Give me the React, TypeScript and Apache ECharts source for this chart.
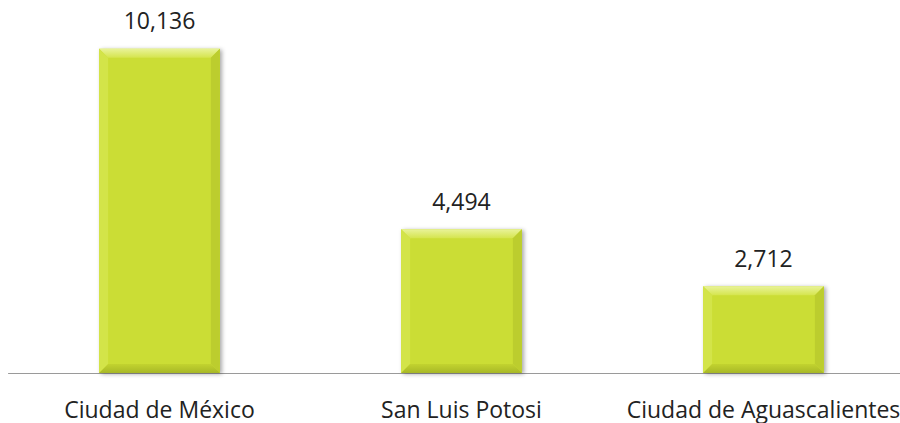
import React, { useEffect, useRef } from "react";
import * as echarts from "echarts";

const categories = ["Ciudad de México", "San Luis Potosi", "Ciudad de Aguascalientes"];
const values = [10136, 4494, 2712];

export default function App() {
  const ref = useRef<HTMLDivElement>(null);
  useEffect(() => {
    const chart = echarts.init(ref.current!, null, { renderer: "svg" });
    const font = "'Open Sans', sans-serif";
    const bev = 9;
    chart.setOption({
      animation: false,
      backgroundColor: "#ffffff",
      grid: { left: 8.5, width: 906, top: 21, bottom: 50 },
      xAxis: {
        type: "category",
        data: categories,
        axisLine: { lineStyle: { color: "#9a9a9a", width: 1 } },
        axisTick: { show: false },
        axisLabel: {
          color: "#222",
          fontSize: 23,
          fontFamily: font,
          margin: 24,
          interval: 0,
          hideOverlap: false,
        },
      },
      yAxis: {
        type: "value",
        min: 0,
        max: 11000,
        show: false,
        splitLine: { show: false },
      },
      series: [
        {
          type: "bar",
          data: values,
          barWidth: "40%",
          itemStyle: {
            color: "#cbdd36",
            shadowColor: "rgba(0,0,0,0.35)",
            shadowBlur: 4,
            shadowOffsetX: 2,
            shadowOffsetY: 1,
          },
          label: {
            show: true,
            position: "top",
            distance: 17,
            color: "#222",
            fontSize: 23,
            fontFamily: font,
            formatter: (p: any) => p.value.toLocaleString("en-US"),
          },
          z: 2,
        },
        {
          type: "custom",
          data: values.map((v, i) => [i, v]),
          z: 3,
          silent: true,
          renderItem: (params: any, api: any) => {
            const idx = api.value(0);
            const v = api.value(1);
            const top = api.coord([idx, v]);
            const base = api.coord([idx, 0]);
            const size = api.size([1, 0]);
            const w = size[0] * 0.4;
            const x0 = top[0] - w / 2;
            const x1 = top[0] + w / 2;
            const y0 = top[1];
            const y1 = base[1];
            const b = bev;
            return {
              type: "group",
              children: [
                {
                  type: "polygon",
                  shape: { points: [[x0, y0], [x1, y0], [x1 - b, y0 + b], [x0 + b, y0 + b]] },
                  style: {
                    fill: new echarts.graphic.LinearGradient(0, 0, 0, 1, [
                      { offset: 0, color: "#e9f39a" },
                      { offset: 1, color: "#d5e54e" },
                    ]),
                  },
                },
                {
                  type: "polygon",
                  shape: { points: [[x0, y0], [x0 + b, y0 + b], [x0 + b, y1 - b], [x0, y1]] },
                  style: { fill: "#d3e449" },
                },
                {
                  type: "polygon",
                  shape: { points: [[x1, y0], [x1, y1], [x1 - b, y1 - b], [x1 - b, y0 + b]] },
                  style: { fill: "#bccd2e" },
                },
                {
                  type: "polygon",
                  shape: { points: [[x0, y1], [x0 + b, y1 - b], [x1 - b, y1 - b], [x1, y1]] },
                  style: {
                    fill: new echarts.graphic.LinearGradient(0, 0, 0, 1, [
                      { offset: 0, color: "#c2d32f" },
                      { offset: 1, color: "#a8b827" },
                    ]),
                  },
                },
              ],
            };
          },
        },
      ],
    });
    return () => chart.dispose();
  }, []);
  return (
    <div
      ref={ref}
      style={{ position: "fixed", left: 0, top: 0, width: 920, height: 423, background: "#fff" }}
    />
  );
}
